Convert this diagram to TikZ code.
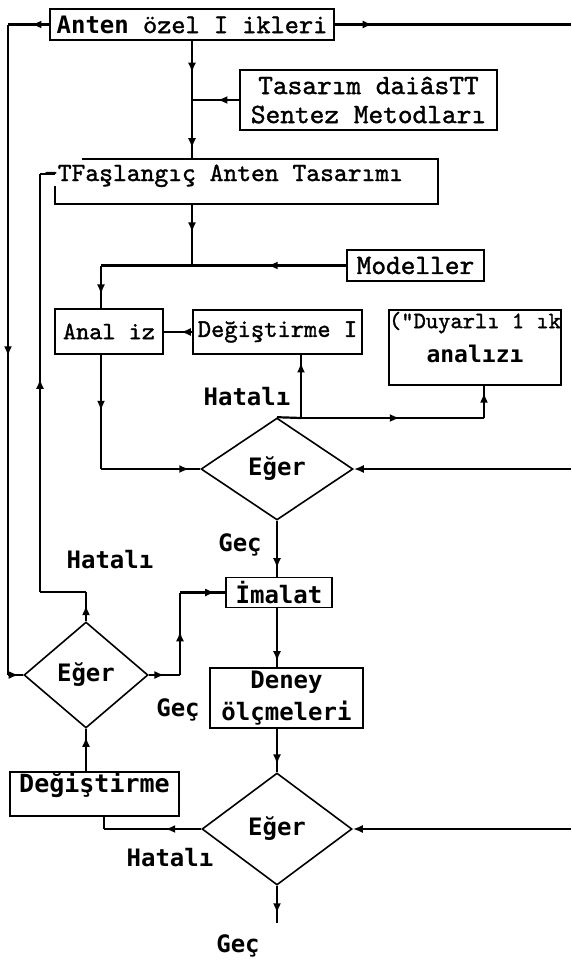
\documentclass[tikz,border=0pt]{standalone}
\usepackage{fontspec}
\newfontfamily\cour{lmmono10-regular.otf}[FakeBold=1.3]
\newfontfamily\lgfont{DejaVu Sans Mono}
\usetikzlibrary{arrows.meta,decorations.markings,shapes.geometric}
\tikzset{
  box/.style={draw, line width=1.8pt, inner sep=0pt},
  boxline/.style={line width=1.8pt},
  lbl/.style={inner sep=0pt, font=\lgfont\bfseries\fontsize{24}{28}\selectfont},
  cf/.style={line width=2.2pt},
  dia/.style={draw, diamond, line width=1.6pt, inner sep=0pt, font=\lgfont\bfseries\fontsize{24}{28}\selectfont},
  ar/.style={postaction={decorate, decoration={markings, mark=at position #1 with {\arrow{Latex[length=10pt,width=8pt]}}}}},
  tipend/.style={-{Latex[length=10pt,width=8pt]}},
}
\begin{document}
\begin{tikzpicture}[x=1pt,y=-1pt]
\fill[white] (0,0) rectangle (571,967);
\useasboundingbox (0,0) rectangle (571,967);

% boxes
\node[box, minimum width=284pt, minimum height=31pt, font=\cour\fontsize{27}{30}\selectfont] (A) at (192,24.5) {{\lgfont\bfseries\fontsize{24}{28}\selectfont Anten} özel I ikleri};
\node[box, minimum width=257pt, minimum height=60pt, align=center, font=\cour\fontsize{28}{29}\selectfont] (T) at (368.5,100) {Tasarım daiâsTT\\Sentez Metodları};
\node[inner sep=0pt, minimum width=383pt, minimum height=45pt, text height=16pt, text depth=17pt, font=\cour\fontsize{26.3}{29}\selectfont] (B) at (246.5,181.5) {\makebox[383pt][l]{\hspace*{-11pt}-TFaşlangıç Anten Tasarımı}};
\draw[boxline] ([yshift=-27pt]B.north west) -- (B.south west) -- (B.south east) -- (B.north east) -- ([xshift=27pt]B.north west);
\node[box, minimum width=137pt, minimum height=31pt, font=\cour\fontsize{28}{30}\selectfont] (M) at (415.5,265.5) {Modeller};
\node[box, minimum width=108pt, minimum height=45pt, font=\cour\fontsize{25}{28}\selectfont] (An) at (109,331.5) {Anal iz};
\node[box, minimum width=169pt, minimum height=44pt, font=\cour\fontsize{25.3}{28}\selectfont] (D1) at (277.5,332) {Değiştirme I};
\node[box, minimum width=166pt, minimum height=75pt, align=center, font=\cour\fontsize{23.4}{34}\selectfont] (Du) at (475,347.5) {(\char34 Duyarlı 1 ık\\{\lgfont\bfseries\fontsize{23}{34}\selectfont analızı}\rule[-21pt]{0pt}{21pt}};
\node[box, minimum width=106pt, minimum height=30pt, font=\lgfont\bfseries\fontsize{24}{28}\selectfont] (I) at (279,592.5) {İmalat};
\node[box, minimum width=153pt, minimum height=60pt, align=center, font=\lgfont\bfseries\fontsize{24}{32}\selectfont] (Dn) at (286.5,698) {Deney\\ölçmeleri};
\node[box, minimum width=169pt, minimum height=44pt, text height=18pt, text depth=22pt, font=\lgfont\bfseries\fontsize{25}{28}\selectfont] (D2) at (94.5,794) {Değiştirme};

% decisions
\node[dia, minimum width=152pt, minimum height=102pt] (E1) at (277,469) {Eğer};
\node[dia, minimum width=124pt, minimum height=106pt] (E2) at (86,675) {Eğer};
\node[dia, minimum width=150pt, minimum height=112pt] (E3) at (277,829) {Eğer};

% labels
\node[lbl] (h1) at (247,397) {Hatalı};
\node[lbl] (g1) at (240,545) {Geç};
\node[lbl] (h2) at (110,560) {Hatalı};
\node[lbl] (g2) at (178,710) {Geç};
\node[lbl] (h3) at (170,858) {Hatalı};
\node[lbl] (g3) at (238,946) {Geç};

% coordinates
\coordinate (Lt) at (8,24.5);
\coordinate (Lb) at (8,675);
\coordinate (Rt) at (571,24.5);
\coordinate (R1) at (571,469);
\coordinate (R3) at (571,829);
\coordinate (Q) at (101,265.5);
\coordinate (J1) at (301,418);
\coordinate (J2) at (484,418);
\coordinate (W3) at (104,829);
\coordinate (P1) at (180,675);
\coordinate (P2) at (180,592.5);
\coordinate (H1) at (86,592);
\coordinate (H2) at (40,592);
\coordinate (H3) at (40,174);
\coordinate (G3) at (277,923);

% connectors
\draw[cf, ar=0.27, ar=0.91] (A.south) -- (A.south |- B.north);
\draw[cf, ar=0.46] (T.west) -- (T.west -| A.south);
\draw[cf, ar=0.46] (A.south |- B.south) -- (A.south |- M.west);
\draw[cf, ar=0.32] (M.west) -- (Q);
\draw[cf, ar=0.68] (Q) -- (Q |- An.north);
\draw[cf, ar=0.49] (Q |- An.south) -- (Q |- E1.west);
\draw[cf, ar=0.89] (Q |- E1.west) -- (E1.west);
\draw[cf, ar=0.4] (D1.west) -- (D1.west -| An.east);
\draw[cf] (E1.north) -- (J1);
\draw[cf, ar=0.88] (J1) -- (J1 |- D1.south);
\draw[cf, ar=0.54] (J1) -- (J2);
\draw[cf, ar=0.79] (J2) -- (J2 |- Du.south);
\draw[cf, tipend] (R1) -- (E1.east);
\draw[cf, ar=0.85] (E1.south) -- (E1.south |- I.north);
\draw[cf, ar=0.9] (E1.south |- I.south) -- (E1.south |- Dn.north);
\draw[cf, ar=0.82] (E1.south |- Dn.south) -- (E3.north);
\draw[cf, ar=0.74] (E3.south) -- (G3);
\draw[cf, tipend] (R3) -- (E3.east);
\draw[cf, ar=0.37] (E3.west) -- (W3);
\draw[cf] (W3) -- (W3 |- D2.south);
\draw[cf, ar=0.81] (D2.north -| E2.south) -- (E2.south);
\draw[cf, ar=0.5] (E2.east) -- (P1);
\draw[cf, ar=0.53] (P1) -- (P2);
\draw[cf, ar=0.78] (P2) -- (I.west);
\draw[cf, ar=0.55] (E2.north) -- (H1);
\draw[cf] (H1) -- (H2);
\draw[cf, ar=0.51] (H2) -- (H3);
\draw[cf] (H3) -- (H3 -| B.west);
\draw[cf, ar=0.43] (A.west) -- (Lt);
\draw[cf, ar=0.51] (Lt) -- (Lb);
\draw[cf, ar=0.7] (Lb) -- (E2.west);
\draw[cf, ar=0.16] (A.east) -- (Rt);
\end{tikzpicture}
\end{document}
